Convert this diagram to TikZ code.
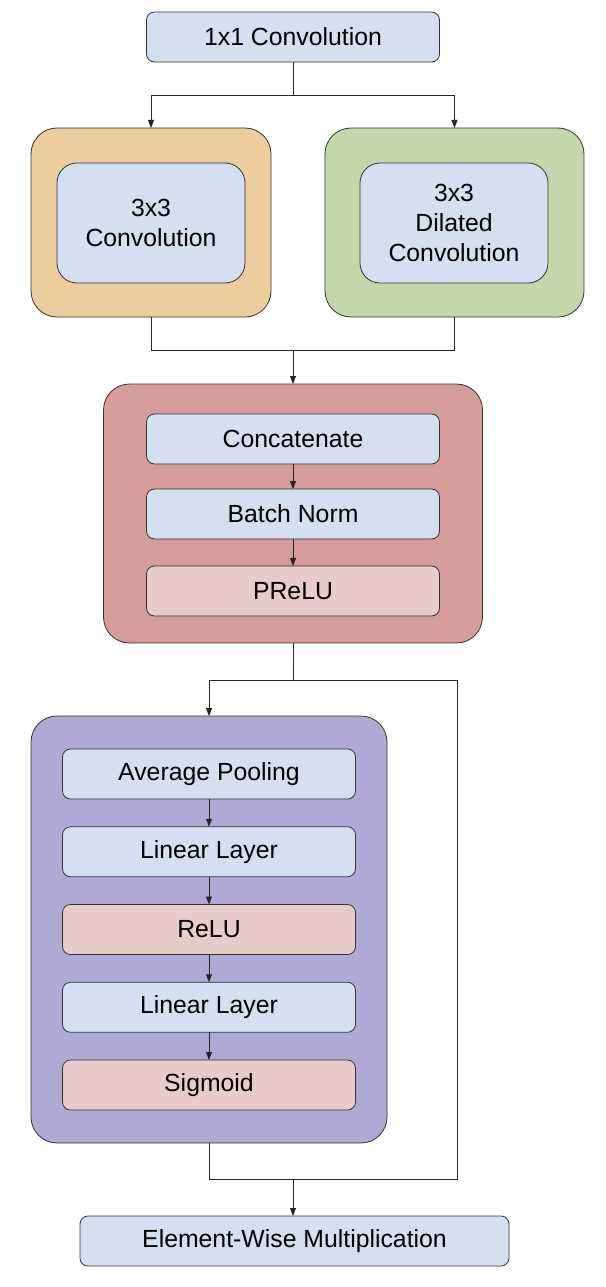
\documentclass[tikz,border=0pt]{standalone}
\usepackage{fontspec}
\setmainfont{Liberation Sans}
\usetikzlibrary{positioning, arrows.meta}
\definecolor{layerblue}{HTML}{D4DFF2}
\definecolor{layerpink}{HTML}{E8CCC9}
\definecolor{convorange}{HTML}{EDCC9D}
\definecolor{dilgreen}{HTML}{C4D7AA}
\definecolor{catred}{HTML}{D49D99}
\definecolor{sepurple}{HTML}{B0A9D5}

\begin{document}
\begin{tikzpicture}
    [
        x=1pt, y=-1pt, on grid, font=\fontsize{24.8}{30}\selectfont, >={Triangle[length=8pt, width=6pt]},
        layer_node/.style={draw=black!80, fill=layerblue, rounded corners=8pt, line width=0.8pt, minimum width=293pt, minimum height=50pt, inner sep=0pt, outer sep=0pt},
        act_node/.style={layer_node, fill=layerpink},
        conv_node/.style={layer_node, rounded corners=20pt, minimum width=188pt, minimum height=120pt, align=center},
        block_node/.style={draw=black!80, rounded corners=26pt, line width=0.8pt, inner sep=0pt, outer sep=0pt},
        link/.style={line width=0.8pt, color=black!85},
    ]
        \useasboundingbox (0,0) rectangle (605,1287) ;
        % outer blocks
        \node[block_node, fill=convorange, minimum width=240pt, minimum height=189pt] (convblock) at (151,222.5) {} ;
        \node[block_node, fill=dilgreen, minimum width=259pt, minimum height=189pt] (dilblock) at (454.5,222.5) {} ;
        \node[block_node, fill=catred, minimum width=379pt, minimum height=259pt] (catblock) at (293,513.5) {} ;
        \node[block_node, fill=sepurple, minimum width=356pt, minimum height=427pt] (seblock) at (209,929.5) {} ;
        % layers
        \node[layer_node] (conv1) at (293,37) {1x1 Convolution} ;
        \node[conv_node] (conv3) at (151,223) {3x3\\Convolution} ;
        \node[conv_node] (dil3) at (454,223) {3x3\\Dilated\\Convolution} ;
        \node[layer_node] (cat) at (293,439) {Concatenate} ;
        \node[layer_node] (bn) [below=75pt of cat] {Batch Norm} ;
        \node[act_node] (prelu) [below=77pt of bn] {PReLU} ;
        \node[layer_node] (pool) at (209,774) {Average Pooling} ;
        \node[layer_node] (lin1) [below=77.75pt of pool] {Linear Layer} ;
        \node[act_node] (relu) [below=77.75pt of lin1] {ReLU} ;
        \node[layer_node] (lin2) [below=77.75pt of relu] {Linear Layer} ;
        \node[act_node] (sig) [below=77.75pt of lin2] {Sigmoid} ;
        \node[layer_node, minimum width=429pt] (mult) at (294.5,1241) {Element-Wise Multiplication} ;
        % junctions
        \coordinate (split1) at (293,95) ;
        \coordinate (merge1) at (293,350.5) ;
        \coordinate (split2) at (293,680) ;
        \coordinate (skiptop) at (457,680) ;
        \coordinate (skipbot) at (457,1179) ;
        \coordinate (merge2) at (293,1179) ;
        % connectors
        \draw[link] (conv1) -- (split1) ;
        \draw[link, ->] (split1) -| (convblock.north) ;
        \draw[link, ->] (split1) -| (dilblock.north) ;
        \draw[link] (convblock.south) |- (merge1) ;
        \draw[link] (dilblock.south) |- (merge1) ;
        \draw[link, ->] (merge1) -- (catblock) ;
        \draw[link, ->] (cat) -- (bn) ;
        \draw[link, ->] (bn) -- (prelu) ;
        \draw[link] (catblock) -- (split2) ;
        \draw[link, ->] (split2) -| (seblock.north) ;
        \draw[link] (split2) -- (skiptop) -- (skipbot) -- (merge2) ;
        \draw[link, ->] (pool) -- (lin1) ;
        \draw[link, ->] (lin1) -- (relu) ;
        \draw[link, ->] (relu) -- (lin2) ;
        \draw[link, ->] (lin2) -- (sig) ;
        \draw[link] (seblock.south) |- (merge2) ;
        \draw[link, ->] (merge2) -- (merge2 |- mult.north) ;
    \end{tikzpicture}
\end{document}
